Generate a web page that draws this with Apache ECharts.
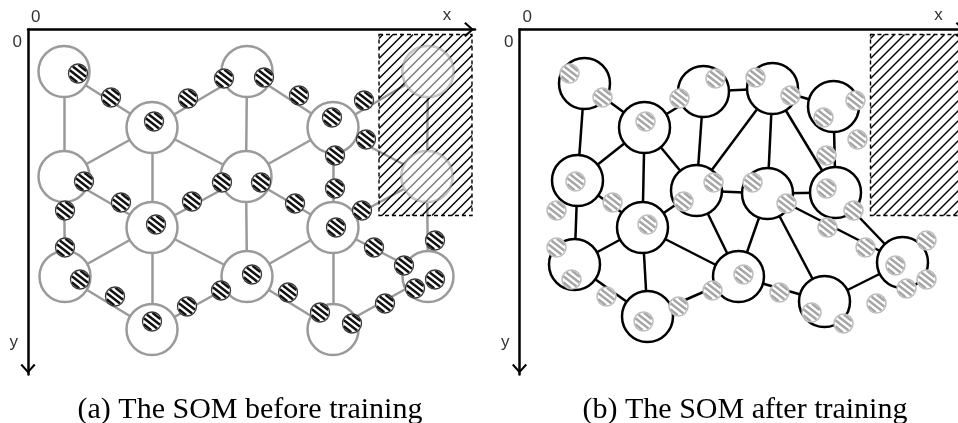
<!DOCTYPE html>
<html>
<head>
<meta charset="utf-8">
<script src="https://cdn.jsdelivr.net/npm/echarts@6/dist/echarts.min.js"></script>
<style>html,body{margin:0;padding:0;background:#fff;overflow:hidden}#chart{width:980px;height:423px}</style>
</head>
<body>
<div id="chart"></div>
<script>
// Input samples (x, y) in map units; the same set is shown in both panels
const sampleX = [50, 83, 160, 196, 236, 271, 336, 126, 304, 338, 307, 56, 194, 233, 93, 164, 307, 267, 334, 37,
                 128, 308, 407, 346, 37, 52, 224, 376, 407, 387, 87, 193, 260, 357, 159, 124, 292, 324];
const sampleY = [44, 68, 69, 49, 48, 66, 71, 92, 88, 110, 126, 152, 153, 153, 173, 172, 159, 174, 181, 181,
                 195, 198, 211, 218, 218, 250, 245, 236, 250, 259, 267, 261, 263, 274, 277, 292, 283, 294];

// Neuron positions on the initial hexagonal lattice
const beforeX = [36, 124, 219, 305, 400, 36, 218, 399, 124, 305, 37, 219, 400, 124, 305];
const beforeY = [42, 98, 42, 98, 42, 147, 147, 147, 198, 198, 247, 247, 247, 300, 300];
const beforeLinks = [[0,1],[1,2],[2,3],[3,4],[5,1],[1,6],[6,3],[3,7],[5,8],[8,6],[6,9],[9,7],
                     [10,8],[8,11],[11,9],[9,12],[10,13],[13,11],[11,14],[14,12],
                     [0,5],[5,10],[1,8],[8,13],[2,6],[6,11],[3,9],[9,14],[4,7],[7,12]];

// Neuron positions after training
const afterX = [65, 125, 184, 253, 314, 58, 177, 248, 316, 123, 55, 219, 305, 383, 128];
const afterY = [54, 98, 62, 59, 77, 151, 161, 164, 163, 198, 235, 247, 272, 233, 287];
const afterLinks = [[0,1],[0,5],[1,2],[2,3],[3,4],[1,5],[1,9],[1,6],[2,6],[3,6],[3,7],[3,8],[4,8],
                    [6,7],[7,8],[5,9],[5,10],[9,6],[6,11],[7,11],[7,12],[7,13],[8,13],[10,9],
                    [9,11],[9,14],[10,14],[14,11],[11,12],[12,13]];

// Excluded (obstacle) region: x range and y range
const regionX = [351, 444];
const regionY = [5, 186];

// Axis extents and captions
const axisLenX = 447, axisLenY = 345;
const captions = ['(a) The SOM before training', '(b) The SOM after training'];

const chevron = 'path://M0,11 L10,0 L20,11 L18,13 L10,4 L2,13 Z';
const gridLefts = [28, 519.5];
const captionCenters = [245, 740];

function inRegion(x, y) {
  return x >= regionX[0] && x <= regionX[1] && y >= regionY[0] && y <= regionY[1];
}

function axesFor(i) {
  const labelFont = {color: '#333', fontSize: 17, fontFamily: 'Liberation Sans'};
  return {
    x: {
      gridIndex: i, type: 'value', position: 'top', min: 0, max: axisLenX, interval: 100,
      splitLine: {show: false}, axisTick: {show: false},
      axisLine: {show: true, onZero: false, lineStyle: {color: '#000', width: 2.5},
                 symbol: ['none', chevron], symbolSize: [15, 12], symbolOffset: [0, -6]},
      axisLabel: Object.assign({formatter: v => v === 0 ? '0' : '', align: 'left',
                 padding: [0, 0, 0, 3], margin: 4}, labelFont),
      name: 'x', nameLocation: 'end', nameGap: -28,
      nameTextStyle: Object.assign({align: 'center', verticalAlign: 'bottom', padding: [0, 0, 6, 0]}, labelFont)
    },
    y: {
      gridIndex: i, type: 'value', inverse: true, min: 0, max: axisLenY, interval: 100,
      splitLine: {show: false}, axisTick: {show: false},
      axisLine: {show: true, onZero: false, lineStyle: {color: '#000', width: 2.5},
                 symbol: [chevron, 'none'], symbolSize: [15, 12], symbolOffset: [6, 0]},
      axisLabel: Object.assign({formatter: v => v === 0 ? '0' : '', verticalAlign: 'top',
                 padding: [4, 0, 0, 0], margin: 6}, labelFont),
      name: 'y', nameLocation: 'end', nameGap: -32,
      nameTextStyle: Object.assign({align: 'right', verticalAlign: 'middle', padding: [0, 10, 0, 0]}, labelFont)
    }
  };
}

// Striped disc used for the input samples
function sampleRenderer(stripe, ring, ringWidth) {
  return function (params, api) {
    const c = api.coord([api.value(0), api.value(1)]);
    const r = 9.5, period = 4.8, ang = 38 * Math.PI / 180;
    const ux = Math.cos(ang), uy = Math.sin(ang), nx = -uy, ny = ux;
    const kids = [{type: 'circle', shape: {cx: c[0], cy: c[1], r: r}, style: {fill: '#fff'}}];
    for (let d = -r + period * 0.5; d < r; d += period) {
      const h = Math.sqrt(Math.max(0, (r - 0.8) * (r - 0.8) - d * d));
      if (h <= 0) continue;
      const px = c[0] + d * nx, py = c[1] + d * ny;
      kids.push({type: 'line', shape: {x1: px - h * ux, y1: py - h * uy, x2: px + h * ux, y2: py + h * uy},
                 style: {stroke: stripe, lineWidth: 2.5}});
    }
    kids.push({type: 'circle', shape: {cx: c[0], cy: c[1], r: r}, style: {fill: null, stroke: ring, lineWidth: ringWidth}});
    return {type: 'group', children: kids};
  };
}

// Dashed rectangle with diagonal hatching
function regionRenderer(params, api) {
  const p0 = api.coord([api.value(0), api.value(1)]);
  const p1 = api.coord([api.value(2), api.value(3)]);
  const L = p0[0], T = p0[1], R = p1[0], B = p1[1];
  const kids = [];
  for (let c = L + T + 4; c < R + B; c += 10) {
    const xa = Math.max(L, c - B), xb = Math.min(R, c - T);
    if (xb - xa < 0.5) continue;
    kids.push({type: 'line', shape: {x1: xa, y1: c - xa, x2: xb, y2: c - xb},
               style: {stroke: '#000', lineWidth: 1.4}});
  }
  kids.push({type: 'rect', shape: {x: L, y: T, width: R - L, height: B - T},
             style: {fill: null, stroke: '#000', lineWidth: 1.4, lineDash: [4, 3]}});
  return {type: 'group', children: kids};
}

const samples = sampleX.map((x, i) => [x, sampleY[i]]);
const region = [[regionX[0], regionY[0], regionX[1], regionY[1]]];

function graphSeries(i, xs, ys, links, color) {
  return {
    type: 'graph', coordinateSystem: 'cartesian2d', xAxisIndex: i, yAxisIndex: i, z: 2,
    symbol: 'circle', symbolSize: 51, silent: true,
    itemStyle: {color: '#fff', borderColor: color, borderWidth: 2.5},
    lineStyle: {color: color, width: 2.5, opacity: 1, curveness: 0},
    label: {show: false},
    data: xs.map((x, k) => ({name: 'n' + k, value: [x, ys[k]]})),
    links: links.map(l => ({source: l[0], target: l[1]}))
  };
}

const axes = [axesFor(0), axesFor(1)];
const faded = beforeX.map((x, k) => [x, beforeY[k]]).filter(p => inRegion(p[0], p[1]));

const option = {
  animation: false,
  backgroundColor: '#fff',
  title: captions.map((t, i) => ({
    text: t, left: captionCenters[i], top: 390, textAlign: 'center',
    textStyle: {fontFamily: 'Liberation Serif', fontWeight: 'normal', fontSize: 30, color: '#000'}
  })),
  grid: gridLefts.map(l => ({left: l, top: 29.5, width: axisLenX, height: axisLenY})),
  xAxis: axes.map(a => a.x),
  yAxis: axes.map(a => a.y),
  series: [
    graphSeries(0, beforeX, beforeY, beforeLinks, '#9a9a9a'),
    {type: 'custom', xAxisIndex: 0, yAxisIndex: 0, z: 3, silent: true, renderItem: regionRenderer, data: region},
    {type: 'scatter', xAxisIndex: 0, yAxisIndex: 0, z: 4, silent: true, symbolSize: 53,
     itemStyle: {color: 'rgba(255,255,255,0.6)'}, data: faded},
    {type: 'custom', xAxisIndex: 0, yAxisIndex: 0, z: 5, silent: true,
     renderItem: sampleRenderer('#111', '#3a3a3a', 1.3), data: samples},

    graphSeries(1, afterX, afterY, afterLinks, '#000'),
    {type: 'custom', xAxisIndex: 1, yAxisIndex: 1, z: 3, silent: true, renderItem: regionRenderer, data: region},
    {type: 'custom', xAxisIndex: 1, yAxisIndex: 1, z: 5, silent: true,
     renderItem: sampleRenderer('#a6a6a6', '#bdbdbd', 1.5), data: samples}
  ]
};

const chart = echarts.init(document.getElementById('chart'));
chart.setOption(option);
</script>
</body>
</html>
